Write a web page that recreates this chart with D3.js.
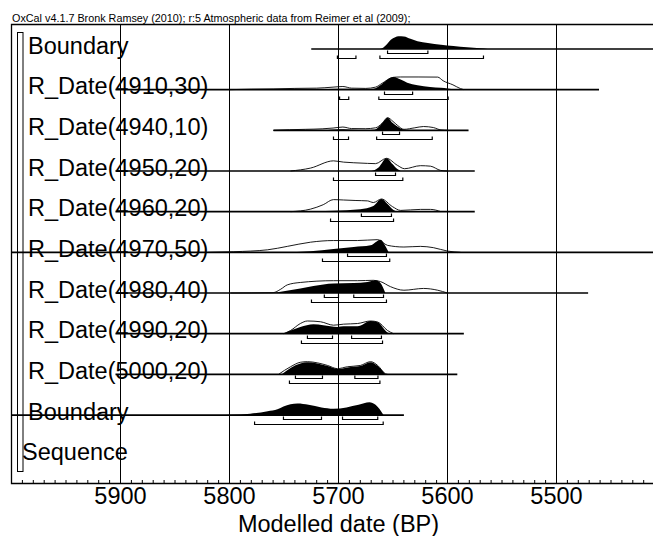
<!DOCTYPE html>
<html><head><meta charset="utf-8">
<script src="https://cdn.jsdelivr.net/npm/d3@7"></script>
<style>html,body{margin:0;padding:0;background:#fff;}svg{display:block;font-family:"Liberation Sans",Arial,sans-serif;}</style>
</head><body>
<svg id="c" width="653" height="536"></svg>
<script>
const title = "OxCal v4.1.7 Bronk Ramsey (2010); r:5 Atmospheric data from Reimer et al (2009);";
const rowLabels = ["Boundary","R_Date(4910,30)","R_Date(4940,10)","R_Date(4950,20)","R_Date(4960,20)","R_Date(4970,50)","R_Date(4980,40)","R_Date(4990,20)","R_Date(5000,20)","Boundary","Sequence"];
const axisTicks = [5900,5800,5700,5600,5500];
const axisTitle = "Modelled date (BP)";
// baseline extents per row [from, to] (BP)
const lineRanges = [[5725,5380],[5904.6,5461],[5759.6,5580.7],[5904.6,5575],[5904.6,5575],[6020,5380],[5904.6,5471],[5904.6,5585],[5904.6,5591],[6020,5640],null];
// unmodelled likelihoods (outline), relative density
const likelihoods = [
  null,
  [[5800,0],[5780,0.04],[5760,0.06],[5740,0.1],[5720,0.12],[5705,0.2],[5696,0.25],[5688,0.12],[5675,0.1],[5666,0.2],[5660,0.5],[5650,0.97],[5643,1.0],[5627,1.0],[5609,0.99],[5604,0.7],[5595,0.38],[5588,0.08],[5585,0]],
  [[5760,0],[5745,0.05],[5730,0.08],[5715,0.12],[5705,0.18],[5696,0.26],[5688,0.14],[5675,0.13],[5666,0.2],[5660,0.55],[5655,1.0],[5650,0.7],[5646,0.4],[5640,0.08],[5630,0.2],[5622,0.3],[5613,0.22],[5606,0.03],[5600,0]],
  [[5744,0],[5725.7,0.23],[5704.6,0.8],[5695.4,0.7],[5686,0.65],[5673.4,0.6],[5666,0.58],[5656,1.0],[5646,0.45],[5639.4,0.18],[5624.8,0.42],[5615.6,0.38],[5606.4,0.05],[5600,0]],
  [[5744,0],[5725.7,0.2],[5714,0.55],[5704.6,0.95],[5695.4,0.92],[5684,0.88],[5673.4,0.85],[5668,0.72],[5660.6,1.0],[5650.5,0.4],[5643,0.1],[5624.8,0.18],[5615.6,0.18],[5606,0]],
  [[5820,0],[5796,0.05],[5765,0.2],[5747,0.47],[5725.7,0.8],[5704.6,0.93],[5682.6,0.93],[5664,1.0],[5655,0.55],[5640,0.42],[5624.8,0.47],[5613,0.37],[5600,0.1],[5588,0]],
  [[5799,0],[5760,0.03],[5753,0.3],[5747,0.64],[5735,0.83],[5704.6,0.97],[5682.6,0.97],[5668,1.0],[5661.5,0.9],[5652.3,0.5],[5640,0.22],[5622,0.36],[5609,0.22],[5600,0]],
  [[5750.5,0],[5744,0.25],[5735,0.8],[5728.5,1.0],[5716.5,0.94],[5704.6,0.67],[5695.4,0.75],[5682.6,0.8],[5670.6,1.0],[5664,0.92],[5655,0.25],[5649.5,0]],
  [[5755,0],[5744,0.6],[5735,0.95],[5728.5,1.0],[5719,0.9],[5710,0.7],[5701,0.45],[5691.7,0.6],[5680,0.7],[5670.6,1.0],[5664,0.7],[5657,0.05],[5655,0]],
  null, null
];
// modelled posteriors (filled), relative density
const posteriors = [
  [[5662,0],[5660,0.05],[5655,0.43],[5652,0.73],[5648,0.93],[5645,1.0],[5640,0.98],[5634,0.8],[5627.5,0.62],[5618,0.48],[5606,0.33],[5594.5,0.23],[5582,0.13],[5570,0.05],[5563,0]],
  [[5740,0],[5720,0.03],[5700,0.08],[5690,0.08],[5680,0.03],[5668,0.08],[5660,0.45],[5655,0.8],[5649.5,1.0],[5643,0.8],[5637,0.55],[5627.5,0.35],[5616,0.22],[5606,0.15],[5600,0.1],[5593,0.03],[5588,0]],
  [[5712,0],[5703,0.06],[5695,0.08],[5688,0.04],[5675,0.02],[5667,0.05],[5664,0.2],[5659.6,0.6],[5655,1.0],[5650.5,0.6],[5646,0.3],[5640,0.05],[5636,0]],
  [[5672,0],[5668,0.05],[5663,0.3],[5656,1.0],[5650.5,0.55],[5646,0.15],[5643,0]],
  [[5735,0],[5704.6,0.08],[5680,0.2],[5668,0.45],[5660.6,1.0],[5655,0.6],[5649.5,0.13],[5646,0]],
  [[5750.5,0],[5725.7,0.08],[5704.6,0.26],[5686,0.42],[5670.6,0.55],[5661.5,1.0],[5657,0.5],[5654,0]],
  [[5760,0],[5735,0.36],[5723,0.55],[5704.6,0.75],[5686,0.78],[5673.4,0.86],[5666,1.0],[5661.5,0.78],[5657,0]],
  [[5750.5,0],[5735,0.53],[5723,0.75],[5714,0.67],[5701,0.53],[5695.4,0.58],[5682.6,0.58],[5670.6,1.0],[5664,0.9],[5655,0.1],[5650.5,0]],
  [[5752,0],[5744,0.5],[5735,0.85],[5728.5,0.95],[5710,0.65],[5701,0.42],[5691.7,0.55],[5680,0.65],[5670.6,0.95],[5664,0.65],[5657,0]],
  [[5810,0],[5798,0.02],[5781,0.1],[5765,0.3],[5756,0.45],[5750.5,0.67],[5737.6,0.9],[5727.5,0.8],[5715.6,0.6],[5704.6,0.5],[5692.7,0.6],[5681.6,0.8],[5671.6,1.0],[5666,0.8],[5658.7,0]],
  null
];
// highest posterior density ranges
const range68 = [
  [[5655,5618]],
  [[5657.8,5632]],
  [[5659.6,5644]],
  [[5666,5647.7]],
  [[5679,5651.4]],
  [[5691.7,5656]],
  [[5713,5700],[5686,5658.7]],
  [[5728.5,5705.5],[5688,5660.6]],
  [[5739.5,5714.7],[5685,5663.8]],
  [[5750.5,5715.6],[5696.3,5664]],
  null
];
const range95 = [
  [[5701,5684],[5662,5567]],
  [[5699,5690.6],[5663,5599.4]],
  [[5704.6,5690.8],[5665,5614]],
  [[5704.6,5641]],
  [[5707.3,5649.5]],
  [[5714.7,5653]],
  [[5724.8,5656]],
  [[5734,5659.6]],
  [[5745,5662]],
  [[5777,5659]],
  null
];

(function(){
const svg = d3.select("#c");
const L = 11.5, R = 665.5, T = 24.5, B = 483.5;
const x = d3.scaleLinear().domain([6000,5400]).range([L,R]);
const y = d3.scalePoint().domain(d3.range(rowLabels.length)).range([49,455.7]);
const h = d3.scaleLinear().domain([0,1]).range([0,12.7]);

svg.append("defs").append("clipPath").attr("id","clip")
  .append("rect").attr("x",L).attr("y",T).attr("width",R-L).attr("height",B-T);

svg.append("text").attr("x",12).attr("y",22).attr("font-size",10.8).attr("fill","#000").text(title);

// grid lines
svg.append("g").selectAll("line").data(axisTicks).join("line")
  .attr("x1",d=>x(d)).attr("x2",d=>x(d)).attr("y1",T).attr("y2",B)
  .attr("stroke","#000").attr("stroke-width",1);

// frame
svg.append("path").attr("d",`M${R},${T}H${L}V${B}H${R}`).attr("fill","none").attr("stroke","#000").attr("stroke-width",1.3);

// minor ticks
svg.append("g").selectAll("line").data(d3.range(6000,5399,-10)).join("line")
  .attr("x1",d=>x(d)).attr("x2",d=>x(d)).attr("y1",B).attr("y2",B-3.5)
  .attr("stroke","#000").attr("stroke-width",1);

// sequence bar
svg.append("rect").attr("x",17.5).attr("y",32.5).attr("width",5.5).attr("height",439)
  .attr("fill","none").attr("stroke","#000").attr("stroke-width",1);

const plot = svg.append("g").attr("clip-path","url(#clip)");
const rows = d3.range(rowLabels.length);

// labels
svg.append("g").selectAll("text").data(rows).join("text")
  .attr("x",i=>i===rowLabels.length-1?22:28).attr("y",i=>y(i)+4.5)
  .attr("font-size",23.5).attr("fill","#000").text(i=>rowLabels[i]);

rows.forEach(i=>{
  const base = y(i);
  if (likelihoods[i]) {
    const line = d3.line().x(d=>x(d[0])).y(d=>base-h(d[1])).curve(d3.curveMonotoneX);
    plot.append("path").attr("d",line(likelihoods[i])).attr("fill","none").attr("stroke","#000").attr("stroke-width",0.9);
  }
  if (posteriors[i]) {
    const area = d3.area().x(d=>x(d[0])).y0(base).y1(d=>base-h(d[1])).curve(d3.curveMonotoneX);
    plot.append("path").attr("d",area(posteriors[i])).attr("fill","#000").attr("stroke","none");
  }
  if (lineRanges[i]) {
    plot.append("line").attr("x1",x(lineRanges[i][0])).attr("x2",x(lineRanges[i][1]))
      .attr("y1",base).attr("y2",base).attr("stroke","#000").attr("stroke-width",1.7);
  }
  const br = (ranges, dy) => {
    if (!ranges) return;
    ranges.forEach(r=>{
      const yy = Math.round(base+dy)+0.5;
      plot.append("path").attr("d",`M${x(r[0])},${yy-3}V${yy}H${x(r[1])}V${yy-3}`)
        .attr("fill","none").attr("stroke","#000").attr("stroke-width",1.2);
    });
  };
  br(range68[i], 4);
  br(range95[i], 9);
});

// axis labels
svg.append("g").selectAll("text").data(axisTicks).join("text")
  .attr("x",d=>x(d)).attr("y",504).attr("text-anchor","middle").attr("font-size",23.5).attr("fill","#000").text(d=>d);
svg.append("text").attr("x",(L+R)/2).attr("y",532).attr("text-anchor","middle").attr("font-size",23.5).attr("fill","#000").text(axisTitle);
})();
</script>
</body></html>
